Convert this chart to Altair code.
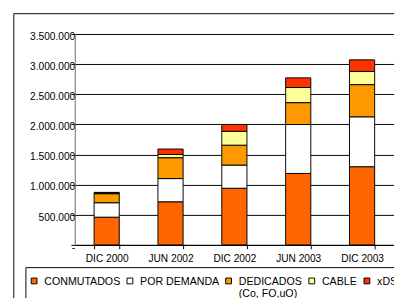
import altair as alt
import pandas as pd

periods = ["DIC 2000", "JUN 2002", "DIC 2002", "JUN 2003", "DIC 2003"]
series = ["CONMUTADOS", "POR DEMANDA", "DEDICADOS", "CABLE", "xDSL"]
conmutados = [460000, 716000, 940000, 1186000, 1298000]
por_demanda = [240000, 385000, 385000, 812000, 828000]
dedicados = [150000, 346000, 330000, 363000, 534000]
cable = [12000, 54000, 230000, 251000, 219000]
xdsl = [10000, 90000, 113000, 160000, 192000]
colors = ["#FF6600", "#FFFFFF", "#FF9900", "#FFFF99", "#FF3300"]
y_ticks = [0, 500000, 1000000, 1500000, 2000000, 2500000, 3000000, 3500000]

values = [conmutados, por_demanda, dedicados, cable, xdsl]
rows = []
for si, (name, vals) in enumerate(zip(series, values)):
    for p, v in zip(periods, vals):
        rows.append({"periodo": p, "serie": name, "idx": si, "valor": v})
df = pd.DataFrame(rows)

FONT = "Liberation Sans"
NB = "\u00a0" * 7

bars = alt.Chart(df).mark_bar(stroke="black", strokeWidth=1).encode(
    x=alt.X("periodo:N", sort=periods,
            scale=alt.Scale(paddingInner=0.606, paddingOuter=0.303),
            axis=alt.Axis(title=None, labelAngle=0, tickBand="extent",
                          domainColor="black", tickColor="black", tickSize=4,
                          labelPadding=5.5, labelFont=FONT, labelFontSize=10.5,
                          labelColor="black", grid=False)),
    y=alt.Y("valor:Q", stack="zero",
            scale=alt.Scale(domain=[0, 3500000], nice=False),
            axis=alt.Axis(title=None, values=y_ticks, gridColor="black",
                          gridWidth=1, domainColor="#666", tickColor="black",
                          tickSize=4, labelPadding=-4, labelOffset=2.5,
                          labelFont=FONT, labelFontSize=10.5, labelColor="black",
                          labelExpr=f"datum.value == 0 ? '-{NB}' : replace(format(datum.value, ',.0f'), /,/g, '.')")),
    color=alt.Color("serie:N", sort=series,
                    scale=alt.Scale(domain=series, range=colors),
                    legend=alt.Legend(
                        title=None, orient="none", legendX=-51, legendY=241,
                        direction="horizontal", columns=5,
                        symbolType="M-1,0.67H1V2.67H-1Z", symbolSize=36,
                        symbolStrokeColor="black", symbolStrokeWidth=1,
                        symbolOpacity=1,
                        labelFont=FONT, labelFontSize=11, labelColor="black",
                        labelBaseline="top", labelOffset=5, labelLimit=0,
                        columnPadding=4, padding=3.5, strokeColor="black",
                        labelExpr="[datum.label, datum.label == 'DEDICADOS' ? '\u00a0(Co, FO,uO)' : '']")),
    order=alt.Order("idx:Q", sort="ascending"),
)

border = alt.Chart(pd.DataFrame({"z": [0]})).mark_rect(
    fillOpacity=0, stroke="black", strokeWidth=1
).encode(
    x=alt.value(-63), x2=alt.value(420), y=alt.value(-21), y2=alt.value(300)
)

chart = alt.layer(border, bars).properties(
    width=330, height=218,
    autosize=alt.AutoSizeParams(type="none"),
    padding={"left": 69, "top": 22, "right": 0, "bottom": 50},
).configure_view(stroke=None)

chart.save("out.html", embed_options={"renderer": "svg", "actions": False})
